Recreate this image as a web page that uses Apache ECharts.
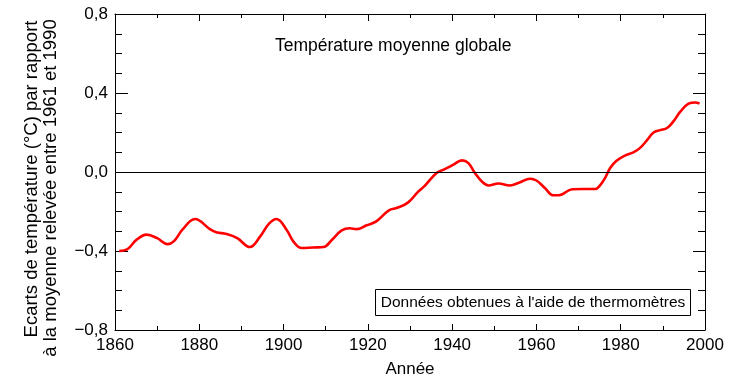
<!DOCTYPE html>
<html><head><meta charset="utf-8">
<script src="https://cdn.jsdelivr.net/npm/echarts@6/dist/echarts.min.js"></script>
<style>html,body{margin:0;padding:0;background:#fff}#c{width:749px;height:391px}</style>
</head><body><div id="c"></div>
<script>
var years = [1861,1863,1865,1867.5,1870,1872.5,1874,1876,1879,1882.5,1884,1886.5,1889,1892,1894.5,1896.5,1898.3,1900.7,1902.3,1904.3,1907,1909.5,1911.5,1913.8,1915.7,1917.3,1919.7,1922,1925,1927,1929.5,1932,1933.5,1936.3,1938,1940.3,1942.3,1943.8,1945.4,1947,1948.6,1951,1953.7,1956,1958.5,1960,1962,1964,1965.3,1968.5,1971,1974,1975,1976.3,1977.5,1979,1981,1983,1984.6,1986.2,1987.8,1989.4,1991,1992.5,1994.1,1996.1,1997.7,1998.7];
var anomalies = [-0.40,-0.39,-0.345,-0.317,-0.335,-0.365,-0.35,-0.292,-0.238,-0.289,-0.305,-0.314,-0.335,-0.38,-0.325,-0.263,-0.238,-0.292,-0.351,-0.385,-0.382,-0.38,-0.343,-0.296,-0.285,-0.289,-0.27,-0.25,-0.194,-0.181,-0.155,-0.098,-0.07,-0.005,0.012,0.037,0.059,0.046,-0.005,-0.047,-0.068,-0.058,-0.068,-0.053,-0.034,-0.043,-0.081,-0.118,-0.118,-0.087,-0.086,-0.086,-0.07,-0.03,0.02,0.057,0.083,0.099,0.122,0.16,0.2,0.212,0.223,0.256,0.304,0.346,0.352,0.346];
var xTicks = [1860,1880,1900,1920,1940,1960,1980,2000];
var yTicks = [-0.8,-0.4,0.0,0.4,0.8];
var title = 'Température moyenne globale';
var note = 'Données obtenues à l\'aide de thermomètres';
var yName1 = 'Ecarts de température (°C) par rapport';
var yName2 = 'à la moyenne relevée entre 1961 et 1990';
var xName = 'Année';

var font = 'Liberation Sans, Arial, sans-serif';
var data = years.map(function(y,i){return [y, anomalies[i]];});
function fmtY(v){ return v.toFixed(1).replace('.', ',').replace('-', '\u2212'); }
function fmtX(v){ return String(v); }

var chart = echarts.init(document.getElementById('c'), null, {renderer:'canvas'});
var axisLine = {show:true, onZero:false, lineStyle:{color:'#000', width:1}};
chart.setOption({
  animation:false,
  backgroundColor:'#fff',
  grid:{left:115, top:14, width:590, height:316, containLabel:false},
  xAxis:[
    {type:'value', position:'bottom', min:xTicks[0], max:xTicks[xTicks.length-1], interval:20,
     axisLine:axisLine, axisTick:{show:true, inside:true, length:6, lineStyle:{color:'#000'}},
     minorTick:{show:true, splitNumber:2, length:4, lineStyle:{color:'#000'}},
     axisLabel:{color:'#000', fontFamily:font, fontSize:17, margin:7, formatter:fmtX},
     splitLine:{show:false},
     name:xName, nameLocation:'middle', nameGap:31, nameTextStyle:{color:'#000', fontFamily:font, fontSize:17}},
    {type:'value', position:'top', min:xTicks[0], max:xTicks[xTicks.length-1], interval:20,
     axisLine:axisLine, axisTick:{show:true, inside:true, length:7, lineStyle:{color:'#000'}},
     minorTick:{show:true, splitNumber:2, length:4, lineStyle:{color:'#000'}},
     axisLabel:{show:false}, splitLine:{show:false}}
  ],
  yAxis:[
    {type:'value', position:'left', min:yTicks[0], max:yTicks[yTicks.length-1], interval:0.4,
     axisLine:axisLine, axisTick:{show:true, inside:true, length:13, lineStyle:{color:'#000'}},
     minorTick:{show:true, splitNumber:4, length:7, lineStyle:{color:'#000'}},
     axisLabel:{color:'#000', fontFamily:font, fontSize:17, margin:7, formatter:fmtY},
     splitLine:{show:false}},
    {type:'value', position:'right', min:yTicks[0], max:yTicks[yTicks.length-1], interval:0.4,
     axisLine:axisLine, axisTick:{show:true, inside:true, length:12, lineStyle:{color:'#000'}},
     minorTick:{show:true, splitNumber:4, length:7, lineStyle:{color:'#000'}},
     axisLabel:{show:false}, splitLine:{show:false}}
  ],
  series:[{
    type:'line', data:data, smooth:0.4, showSymbol:false, xAxisIndex:0, yAxisIndex:0,
    lineStyle:{color:'#ff0000', width:2.6},
    markLine:{silent:true, symbol:'none', label:{show:false},
      lineStyle:{color:'#000', width:1, type:'solid'},
      data:[{yAxis:0}]}
  }],
  graphic:[
    {type:'text', left:275, top:37, style:{text:title, fontFamily:font, fontSize:17.5, fill:'#000'}},
    {type:'group', left:375, top:289, children:[
      {type:'rect', shape:{x:0,y:0,width:315,height:26}, style:{fill:'#fff', stroke:'#000', lineWidth:1}},
      {type:'text', x:157.5, y:13, style:{text:note, fontFamily:font, fontSize:15.5, fill:'#000', align:'center', verticalAlign:'middle'}}
    ]},
    {type:'text', x:32, y:179, rotation:Math.PI/2, style:{text:yName1, fontFamily:font, fontSize:18.5, fill:'#000', align:'center', verticalAlign:'middle'}},
    {type:'text', x:51, y:188, rotation:Math.PI/2, style:{text:yName2, fontFamily:font, fontSize:18.5, fill:'#000', align:'center', verticalAlign:'middle'}}
  ]
});
</script></body></html>
